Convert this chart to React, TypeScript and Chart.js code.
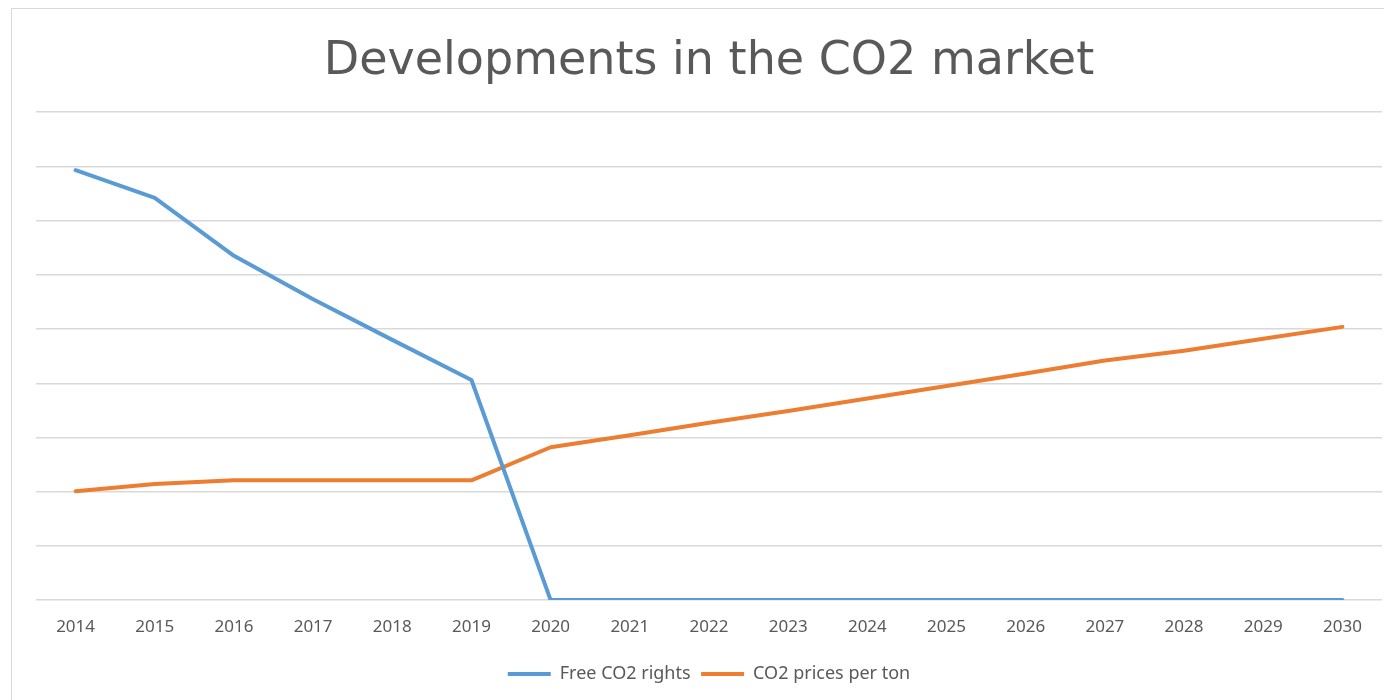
import React, { useEffect, useRef } from "react";
import { Chart, registerables } from "chart.js";

Chart.register(...registerables);

const years = ["2014","2015","2016","2017","2018","2019","2020","2021","2022","2023","2024","2025","2026","2027","2028","2029","2030"];
const freeRights = [7.93, 7.42, 6.35, 5.55, 4.8, 4.06, 0, 0, 0, 0, 0, 0, 0, 0, 0, 0, 0];
const pricesPerTon = [2.01, 2.14, 2.21, 2.21, 2.21, 2.21, 2.82, 3.04, 3.27, 3.49, 3.72, 3.95, 4.18, 4.42, 4.6, 4.82, 5.04];
const titleText = "Developments in the CO2 market";
const seriesNames = ["Free CO2 rights", "CO2 prices per ton"];

export default function App() {
  const ref = useRef<HTMLCanvasElement | null>(null);
  useEffect(() => {
    if (!ref.current) return;
    const chart = new Chart(ref.current, {
      type: "line",
      data: {
        labels: years,
        datasets: [
          { label: seriesNames[0], data: freeRights, borderColor: "#5B9BD5", backgroundColor: "#5B9BD5", borderWidth: 4, pointRadius: 0, tension: 0, borderCapStyle: "round", borderJoinStyle: "round" },
          { label: seriesNames[1], data: pricesPerTon, borderColor: "#ED7D31", backgroundColor: "#ED7D31", borderWidth: 4, pointRadius: 0, tension: 0, borderCapStyle: "round", borderJoinStyle: "round" },
        ],
      },
      options: {
        animation: false,
        responsive: false,
        maintainAspectRatio: false,
        layout: { padding: { left: 24, right: 2, top: 0, bottom: 7 } },
        plugins: {
          title: {
            display: true,
            text: titleText,
            color: "#595959",
            font: { family: "'DejaVu Sans'", size: 46, weight: "normal" },
            padding: { top: 25, bottom: 23 },
          },
          legend: {
            position: "bottom",
            labels: {
              color: "#595959",
              font: { family: "'Noto Sans'", size: 18 },
              usePointStyle: true,
              pointStyle: "line",
              pointStyleWidth: 43,
              padding: 10.5,
            },
          },
          tooltip: { enabled: false },
        },
        scales: {
          x: {
            offset: true,
            grid: { display: false, drawTicks: false },
            border: { display: false },
            ticks: { color: "#595959", font: { family: "'Noto Sans'", size: 17 }, padding: 17, maxRotation: 0, autoSkip: false },
          },
          y: {
            min: 0,
            max: 9,
            ticks: { display: false, stepSize: 1 },
            grid: { color: "#D9D9D9", lineWidth: 1.5, drawTicks: false },
            border: { display: false },
          },
        },
      },
    });
    return () => chart.destroy();
  }, []);
  return (
    <div style={{ position: "absolute", left: 0, top: 0, width: 1384, height: 700, background: "#fff" }}>
      <div style={{ position: "absolute", left: 11, top: 8, width: 1373, height: 692, borderLeft: "1.5px solid #D9D9D9", borderTop: "1.5px solid #D9D9D9" }}>
        <canvas ref={ref} width={1372} height={691} style={{ display: "block" }} />
      </div>
    </div>
  );
}
